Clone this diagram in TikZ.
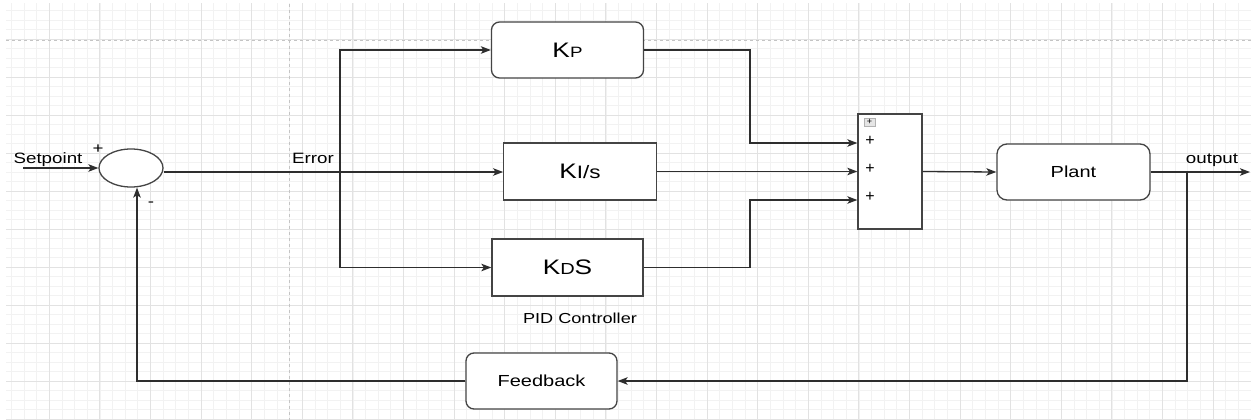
\documentclass[tikz,border=0pt]{standalone}
\usepackage{fontspec}
\setmainfont{Liberation Sans}
\usepackage{graphicx}
\usetikzlibrary{arrows.meta,shapes.geometric}

\definecolor{gridmajor}{HTML}{E2E2E2}
\definecolor{gridminor}{HTML}{F2F2F2}
\definecolor{pagebreak}{HTML}{C4C4C4}
\definecolor{wire}{HTML}{2E2E2E}
\definecolor{edge}{HTML}{444444}

% horizontally widened text and point-size helper
\newcommand{\hwide}[1]{\scalebox{1.25}[1]{#1}}
\newcommand{\fsz}[1]{\fontsize{#1}{#1}\selectfont}

\begin{document}
\begin{tikzpicture}[x=1pt,y=-1pt,
  wire/.style={draw=wire, line width=1.3pt},
  arr/.style={wire, -{Stealth[length=10pt,width=7.5pt,inset=2.5pt]}},
  rbox/.style={draw=edge, fill=white, line width=1.3pt, rounded corners=8pt, inner sep=0pt},
  sbox/.style={draw=edge, fill=white, line width=1.3pt, inner sep=0pt},
  lbl/.style={inner sep=0pt, font=\fsz{15}},
  sign/.style={inner sep=0pt, font=\fsz{16}}
]
\useasboundingbox (0,0) rectangle (1251,420);
\fill[white] (0,0) rectangle (1251,420);

% background grid
\begin{scope}
  \clip (6,4) rectangle (1251,420);
  \foreach \i in {0,...,99}
    \draw[gridminor, line width=0.8pt] ({-1.3+12.65*\i},0) -- ++(0,420);
  \foreach \i in {0,...,44}
    \draw[gridminor, line width=0.8pt] (0,{1+9.5*\i}) -- ++(1251,0);
  \foreach \i in {0,...,24}
    \draw[gridmajor, line width=0.9pt] ({-1.3+50.6*\i},0) -- ++(0,420);
  \foreach \i in {0,...,11}
    \draw[gridmajor, line width=0.9pt] (0,{1+38*\i}) -- ++(1251,0);
\end{scope}
% page-break guides
\draw[pagebreak, line width=0.9pt, dash pattern=on 3.3pt off 2.7pt] (6,40) -- (1251,40);
\draw[pagebreak, line width=0.9pt, dash pattern=on 3.3pt off 2.7pt] (289,4) -- (289,420);

% summing junction
\node[draw=edge, fill=white, line width=1.3pt, ellipse, minimum width=64pt, minimum height=38pt, inner sep=0pt] (sum) at (131,168) {};

% controller branches
\node[rbox, minimum width=152pt, minimum height=56pt] (kp) at (567.5,50)
  {\hwide{{\fsz{21}K}{\fsz{15}P}}};
\node[sbox, minimum width=152.5pt, minimum height=57pt] (ki) at (580,171.5)
  {\hwide{{\fsz{21}K}{\fsz{18}I/s}}};
\node[sbox, minimum width=151pt, minimum height=57pt] (kd) at (567.5,267.5)
  {\hwide{{\fsz{21}K}{\fsz{16}D}{\fsz{21}S}}};

% adder block
\node[sbox, minimum width=64pt, minimum height=115pt] (add) at (890,171.5) {};
\node[draw=gray!60, fill=gray!20, line width=0.6pt, minimum width=11pt, minimum height=8pt, inner sep=0pt, font=\fsz{9}] (addicon) at (869.5,122) {+};
\node[sign] (p1) at (870,141) {+};
\node[sign] (p2) at (870,169) {+};
\node[sign] (p3) at (870,197) {+};

% plant and feedback
\node[rbox, rounded corners=10pt, minimum width=153pt, minimum height=56pt, font=\fsz{16}] (plant) at (1073.5,172) {\hwide{Plant}};
\node[rbox, minimum width=151pt, minimum height=56pt, font=\fsz{16}] (fb) at (541.5,381) {\hwide{Feedback}};

% labels
\node[lbl, anchor=base] (setpt) at (48,163.3) {\hwide{Setpoint}};
\node[lbl] (plus) at (98,149) {\hwide{+}};
\node[lbl] (minus) at (151,204) {\hwide{-}};
\node[lbl, anchor=base] (err) at (313,163.3) {\hwide{Error}};
\node[lbl, anchor=base] (outl) at (1212,163.3) {\hwide{output}};
\node[lbl, anchor=base, font=\fsz{14.5}] (pid) at (580,323.3) {\hwide{PID Controller}};

% connector points
\coordinate (sp) at (23,168);
\coordinate (br) at (340,172);
\coordinate (jx) at (750,0);
\coordinate (in1) at ([yshift=28.5pt]add.west);
\coordinate (in3) at ([yshift=-28.5pt]add.west);
\coordinate (tap) at (1187,172);
\coordinate (out) at (1250,172);

% connectors
\draw[arr] (sp) -- (sum.west);
\draw[arr] ([yshift=-4pt]sum.east) -- (ki.west |- br);
\draw[arr] (br) |- (kp.west);
\draw[arr] (br) |- (kd.west);
\draw[arr] (kp.east) -| (jx |- in1) -- (in1);
\draw[arr] (ki.east) -- (add.west);
\draw[arr] (kd.east) -| (jx |- in3) -- (in3);
\draw[arr] (add.east) -- (plant.west);
\draw[arr] (plant.east) -- (out);
\draw[arr] (tap) |- (fb.east);
\draw[arr] (fb.west) -| ([xshift=6pt]sum.south);
\end{tikzpicture}
\end{document}
